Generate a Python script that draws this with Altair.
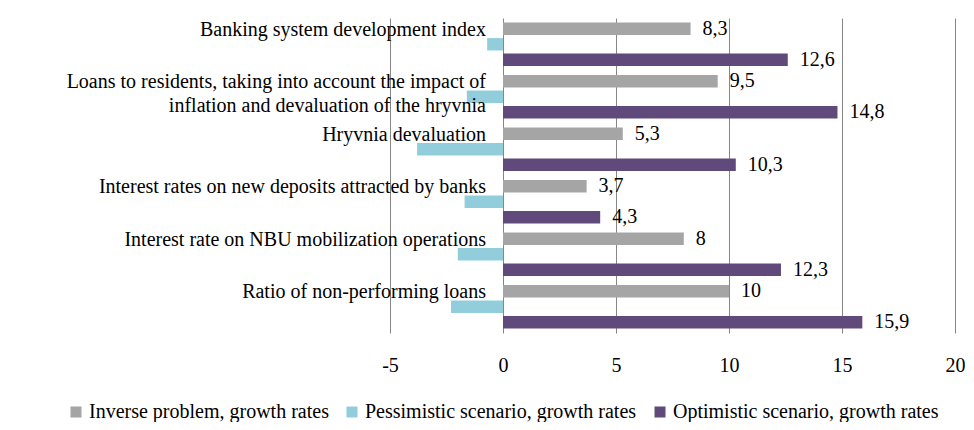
import altair as alt
import pandas as pd

categories = [
    "Banking system development index",
    "Loans to residents, taking into account the impact of\ninflation and devaluation of the hryvnia",
    "Hryvnia devaluation",
    "Interest rates on new deposits attracted by banks",
    "Interest rate on NBU mobilization operations",
    "Ratio of non-performing loans",
]
series = [
    "Inverse problem, growth rates",
    "Pessimistic scenario, growth rates",
    "Optimistic scenario, growth rates",
]
inverse = [8.3, 9.5, 5.3, 3.7, 8, 10]
pessimistic = [-0.7, -1.6, -3.8, -1.7, -2.0, -2.3]
optimistic = [12.6, 14.8, 10.3, 4.3, 12.3, 15.9]
colors = ["#A5A5A5", "#92CDDC", "#604A7B"]
x_ticks = [-5, 0, 5, 10, 15, 20]

rows = []
for s, vals in zip(series, [inverse, pessimistic, optimistic]):
    for c, v in zip(categories, vals):
        rows.append({"category": c, "series": s, "value": v})
df = pd.DataFrame(rows)

FONT = "Liberation Serif"

y_enc = alt.Y("category:N", sort=categories, axis=None,
              scale=alt.Scale(paddingInner=0.173, paddingOuter=0.087))
yoff_enc = alt.YOffset("series:N", sort=series,
                       scale=alt.Scale(paddingInner=0.2, paddingOuter=0))
x_enc = alt.X(
    "value:Q",
    scale=alt.Scale(domain=[-5, 20], nice=False, zero=False),
    axis=alt.Axis(
        values=x_ticks, title=None, grid=True, gridColor="#868686",
        gridWidth=1, domain=False, ticks=False, labelPadding=22,
        labelFlush=False, labelBound=False,
        labelFont=FONT, labelFontSize=20, labelColor="#000000",
        labelExpr="replace(datum.label, '\u2212', '-')",
    ),
)

base = alt.Chart(df)

bars = base.mark_bar().encode(
    x=x_enc,
    y=y_enc,
    yOffset=yoff_enc,
    color=alt.Color(
        "series:N", sort=series,
        scale=alt.Scale(domain=series, range=colors),
        legend=alt.Legend(
            orient="none", legendX=-324, legendY=384, direction="horizontal",
            columns=3, title=None, symbolType="square", symbolSize=121,
            symbolStrokeWidth=0, labelFont=FONT, labelFontSize=20,
            labelColor="#000000", labelLimit=500, columnPadding=13,
            labelOffset=3, padding=0,
        ),
    ),
)

values = base.transform_filter(
    alt.datum.series != series[1]
).transform_calculate(
    label="replace(toString(datum.value), '.', ',')"
).mark_text(
    align="left", baseline="middle", dx=12, font=FONT, fontSize=20, color="#000000"
).encode(
    x="value:Q",
    y=y_enc,
    yOffset=yoff_enc,
    text="label:N",
)

cat_labels = base.transform_filter(
    alt.datum.series == series[0]
).mark_text(
    align="right", baseline="top", dx=-17, dy=-9, font=FONT, fontSize=20,
    color="#000000", lineBreak="\n", lineHeight=24,
).encode(
    x=alt.datum(0),
    y=y_enc,
    yOffset=yoff_enc,
    text="category:N",
)

chart = alt.layer(bars, values, cat_labels).properties(
    width=565,
    height=315,
    autosize=alt.AutoSizeParams(type="none"),
    padding={"left": 382, "top": 10, "right": 10, "bottom": 89},
).configure_view(stroke=None)

chart.save("out.html", embed_options={"renderer": "svg", "actions": False})
